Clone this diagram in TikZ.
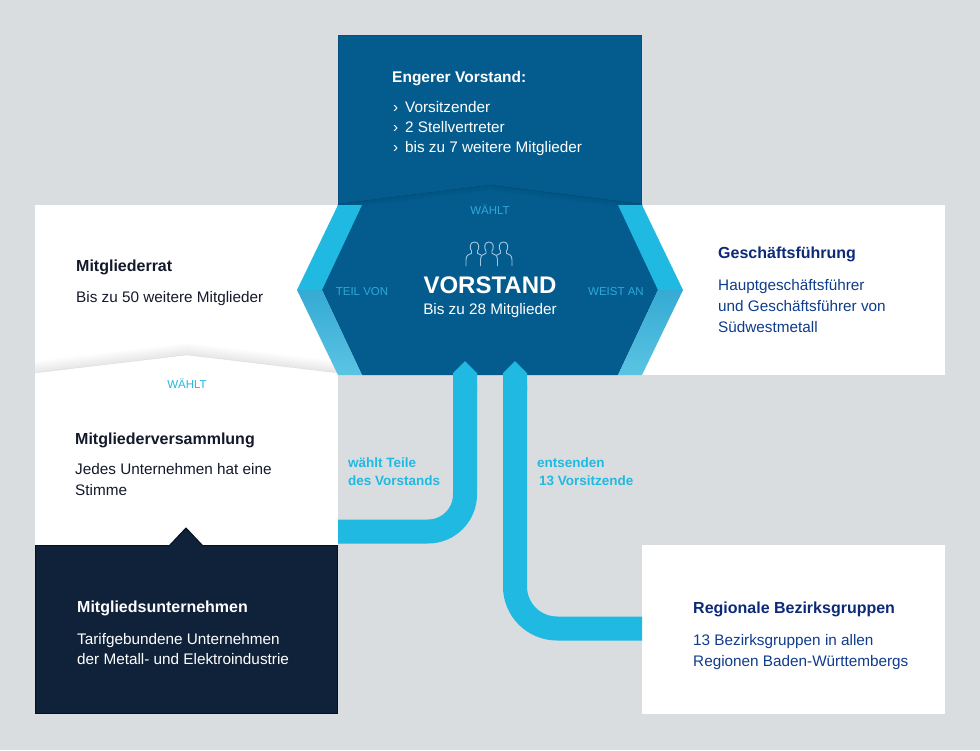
\documentclass[tikz,border=0pt]{standalone}
\usepackage{fontspec}
\setmainfont{Liberation Sans}
\usetikzlibrary{arrows.meta}
\definecolor{bg}{HTML}{D9DDE0}
\definecolor{vblue}{HTML}{045C8E}
\definecolor{vedge}{HTML}{0B4F7F}
\definecolor{cyanA}{HTML}{20B9E1}
\definecolor{cyanB}{HTML}{35AAD3}
\definecolor{cyanC}{HTML}{5BC4E3}
\definecolor{navy}{HTML}{0F223A}
\definecolor{navyedge}{HTML}{06111F}
\definecolor{ink}{HTML}{13192B}
\definecolor{gftitle}{HTML}{0C2A78}
\definecolor{gfbody}{HTML}{0F3C8C}
\definecolor{hexlabel}{HTML}{2FA8DA}
\definecolor{icon}{HTML}{A3C5DF}
\tikzset{
  box/.style={inner sep=0pt, outer sep=0pt, draw=none},
  ttl/.style={anchor=base west, inner sep=0pt, font=\fontsize{16}{19}\selectfont\bfseries},
  txt/.style={anchor=base west, inner sep=0pt, font=\fontsize{15.3}{18}\selectfont},
  lbl/.style={anchor=base, inner sep=0pt, font=\fontsize{11.5}{14}\selectfont},
  pipetxt/.style={anchor=base west, inner sep=0pt, text=cyanA, font=\fontsize{13.5}{16}\selectfont\bfseries},
  pipe/.style={draw=cyanA, line width=24pt, -{Triangle Cap[]}},
  person/.style={draw=icon, line width=0.9pt, line join=round}
}
\newcommand\personpath[1]{%
  (#1-8.5,266) -- (#1-8.5,260) .. controls (#1-8.5,255.5) and (#1-6,254) .. (#1-3,253.3) -- (#1-3,251)
  .. controls (#1-5.3,248) and (#1-4.8,242) .. (#1,242) .. controls (#1+4.8,242) and (#1+5.3,248) .. (#1+3,251)
  -- (#1+3,253.3) .. controls (#1+6,254) and (#1+8.5,255.5) .. (#1+8.5,260) -- (#1+8.5,266)}
\begin{document}
\begin{tikzpicture}[x=1pt,y=-1pt]
\useasboundingbox (0,0) rectangle (980,750);
\fill[bg] (0,0) rectangle (980,750);

% white boxes
\node[box, fill=white, minimum width=303pt, minimum height=168pt] (rat) at (186.5,289) {};
\node[box, fill=white, minimum width=303pt, minimum height=172pt] (mv) at (186.5,459) {};
\node[box, fill=white, minimum width=303pt, minimum height=170pt] (gf) at (793.5,290) {};
\node[box, fill=white, minimum width=303pt, minimum height=169pt] (bz) at (793.5,629.5) {};

% roof shadow of Mitgliederversammlung
\foreach \i in {1,...,12}
  \fill[black, opacity=0.008] (35,373) -- (187,355) -- (338,373) -- (338,373-\i) -- (187,355-\i) -- (35,373-\i) -- cycle;
\draw[black, opacity=0.05, line width=0.6pt] (35,373) -- (187,355) -- (338,373);

% dark box with notch
\node[box, fill=navy, draw=navyedge, line width=1pt, minimum width=302pt, minimum height=168pt] (mu) at (186.5,629.5) {};
\fill[navy] (169,546) -- (186,528) -- (203,546) -- cycle;
\draw[navyedge, line width=1pt] (169,546) -- (186,528) -- (203,546);

% top box
\node[box, fill=vblue, draw=vedge, line width=1pt, minimum width=303pt, minimum height=170pt] (ev) at (490,120) {};

% hexagon interior
\fill[vblue] (338,204) -- (642,204) -- (658,290) -- (618,375) -- (362,375) -- (322,290) -- cycle;
\foreach \i in {1,...,6}
  \fill[black, opacity=0.006] (338,204) -- (490,185) -- (642,204) -- (642,204+\i) -- (490,185+\i) -- (338,204+\i) -- cycle;
\draw[black, opacity=0.08, line width=0.8pt] (338,204) -- (490,185) -- (642,204);

% chevrons
\fill[cyanA] (338,205) -- (362,205) -- (322,290) -- (297,290) -- cycle;
\shade[top color=cyanB, bottom color=cyanC] (297,290) -- (322,290) -- (362,375) -- (338,375) -- cycle;
\fill[cyanA] (618,205) -- (642,205) -- (683,290) -- (658,290) -- cycle;
\shade[top color=cyanB, bottom color=cyanC] (658,290) -- (683,290) -- (642,375) -- (618,375) -- cycle;

% arrow targets on the Vorstand
\coordinate (vtipL) at (465,361);
\coordinate (vtipR) at (515,361);

% pipes
\draw[pipe, rounded corners=37pt] ([yshift=13.5pt]mv.south east) -| (vtipL);
\draw[pipe, rounded corners=42pt] ([yshift=1pt]bz.west) -| (vtipR);

% people icon
\draw[person] \personpath{474.5};
\draw[person] \personpath{503.5};
\draw[person, fill=vblue] \personpath{489};

% top box text
\node[ttl, text=white, font=\fontsize{15.5}{18}\selectfont\bfseries] (evt) at (392,82) {Engerer Vorstand:};
\node[txt, text=white] (b1) at (393,112.5) {›};
\node[txt, text=white] (e1) at (405,112.5) {Vorsitzender};
\node[txt, text=white] (b2) at (393,132.5) {›};
\node[txt, text=white] (e2) at (405,132.5) {2 Stellvertreter};
\node[txt, text=white] (b3) at (393,152.5) {›};
\node[txt, text=white] (e3) at (405,152.5) {bis zu 7 weitere Mitglieder};

% Vorstand
\node[lbl, text=hexlabel] (w1) at (490,214) {WÄHLT};
\node[anchor=base, inner sep=0pt, text=white, font=\fontsize{24}{28}\selectfont\bfseries] (vorstand) at (490,293) {VORSTAND};
\node[anchor=base, inner sep=0pt, text=white, font=\fontsize{15.3}{18}\selectfont] (vsub) at (490,314) {Bis zu 28 Mitglieder};
\node[lbl, text=hexlabel] (teil) at (362,295) {TEIL VON};
\node[lbl, text=hexlabel] (weist) at (616,295) {WEIST AN};

% Mitgliederrat
\node[ttl, text=ink] (ratt) at (76,271) {Mitgliederrat};
\node[txt, text=ink] (ratb) at (76,302) {Bis zu 50 weitere Mitglieder};

% Mitgliederversammlung
\node[lbl, text=cyanA] (w2) at (187,388) {WÄHLT};
\node[ttl, text=ink] (mvt) at (75,444) {Mitgliederversammlung};
\node[txt, text=ink] (mvb1) at (75,474) {Jedes Unternehmen hat eine};
\node[txt, text=ink] (mvb2) at (75,495) {Stimme};

% Mitgliedsunternehmen
\node[ttl, text=white] (mut) at (77,612) {Mitgliedsunternehmen};
\node[txt, text=white] (mub1) at (77,644) {Tarifgebundene Unternehmen};
\node[txt, text=white] (mub2) at (77,664) {der Metall- und Elektroindustrie};

% Geschaeftsfuehrung
\node[ttl, text=gftitle] (gft) at (718,258) {Geschäftsführung};
\node[txt, text=gfbody] (gfb1) at (718,290) {Hauptgeschäftsführer};
\node[txt, text=gfbody] (gfb2) at (718,311) {und Geschäftsführer von};
\node[txt, text=gfbody] (gfb3) at (718,332) {Südwestmetall};

% Bezirksgruppen
\node[ttl, text=gftitle] (bzt) at (693,613) {Regionale Bezirksgruppen};
\node[txt, text=gfbody] (bzb1) at (693,645) {13 Bezirksgruppen in allen};
\node[txt, text=gfbody] (bzb2) at (693,666) {Regionen Baden-Württembergs};

% pipe labels
\node[pipetxt] (p1a) at (348,467) {wählt Teile};
\node[pipetxt] (p1b) at (348,485) {des Vorstands};
\node[pipetxt] (p2a) at (537,467) {entsenden};
\node[pipetxt] (p2b) at (539,485) {13 Vorsitzende};
\end{tikzpicture}
\end{document}
